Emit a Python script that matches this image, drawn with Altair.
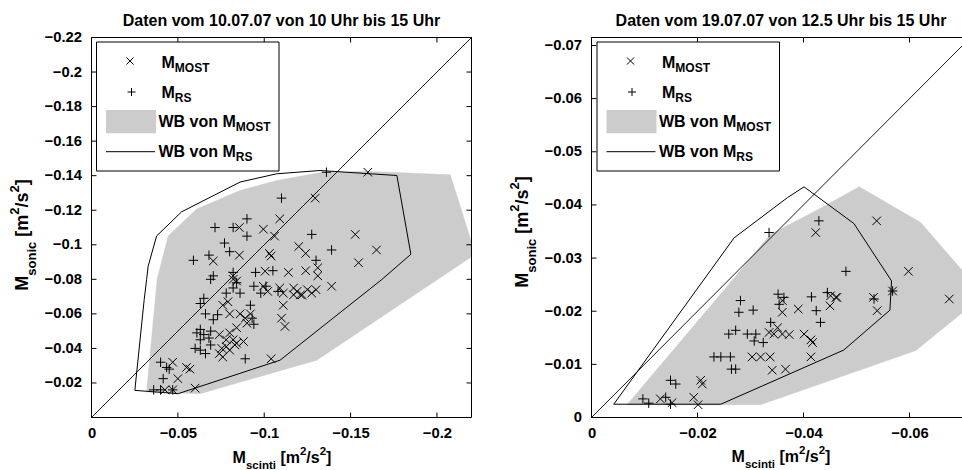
import altair as alt
import pandas as pd

FONT = "Liberation Sans"
GRAY = "#cccccc"
INK = "#000000"

# ---------------- 10.07.07, 10 - 15 Uhr ----------------
l_most_x = [-0.160, -0.1295, -0.109, -0.0856, -0.0995, -0.106, -0.1527, -0.120, -0.165, -0.103,
            -0.124, -0.0856, -0.104, -0.0705, -0.1546, -0.131, -0.1005, -0.082, -0.114, -0.124,
            -0.131, -0.084, -0.0995, -0.109, -0.117, -0.119, -0.139, -0.130, -0.111, -0.122,
            -0.1275, -0.102, -0.082, -0.121, -0.117, -0.125, -0.111, -0.110, -0.112, -0.076,
            -0.079, -0.080, -0.086, -0.089, -0.092, -0.090, -0.084, -0.080, -0.074, -0.078,
            -0.082, -0.084, -0.0754, -0.078, -0.080, -0.083, -0.088, -0.074, -0.076, -0.047,
            -0.055, -0.057, -0.050, -0.060, -0.0425, -0.047, -0.104]
l_most_y = [-0.142, -0.127, -0.115, -0.110, -0.109, -0.105, -0.106, -0.099, -0.097, -0.095,
            -0.095, -0.094, -0.0935, -0.0906, -0.0896, -0.0867, -0.0847, -0.082, -0.084, -0.085,
            -0.082, -0.079, -0.076, -0.075, -0.075, -0.073, -0.076, -0.074, -0.072, -0.071,
            -0.072, -0.073, -0.080, -0.071, -0.071, -0.074, -0.065, -0.0575, -0.0527, -0.065,
            -0.067, -0.060, -0.060, -0.0575, -0.060, -0.0546, -0.052, -0.049, -0.048, -0.045,
            -0.045, -0.043, -0.040, -0.041, -0.039, -0.042, -0.044, -0.037, -0.035, -0.032,
            -0.029, -0.028, -0.0225, -0.017, -0.016, -0.016, -0.034]
l_rs_x = [-0.136, -0.110, -0.0715, -0.090, -0.082, -0.090, -0.1275, -0.077, -0.080, -0.139,
          -0.059, -0.130, -0.068, -0.082, -0.095, -0.105, -0.0705, -0.069, -0.084, -0.082,
          -0.094, -0.101, -0.108, -0.086, -0.078, -0.098, -0.065, -0.063, -0.066, -0.073,
          -0.092, -0.0705, -0.093, -0.094, -0.063, -0.061, -0.069, -0.065, -0.063, -0.068,
          -0.060, -0.063, -0.066, -0.069, -0.089, -0.040, -0.0435, -0.045, -0.0415, -0.036,
          -0.040, -0.047]
l_rs_y = [-0.142, -0.127, -0.110, -0.115, -0.110, -0.105, -0.106, -0.101, -0.096, -0.097,
          -0.091, -0.091, -0.094, -0.084, -0.084, -0.085, -0.082, -0.080, -0.078, -0.075,
          -0.076, -0.076, -0.073, -0.072, -0.072, -0.072, -0.069, -0.066, -0.060, -0.0595,
          -0.065, -0.0566, -0.0575, -0.054, -0.051, -0.049, -0.050, -0.048, -0.045, -0.046,
          -0.040, -0.039, -0.037, -0.042, -0.034, -0.032, -0.029, -0.028, -0.0225, -0.016,
          -0.016, -0.016]
# envelope (WB) of M_MOST and of M_RS
l_wbmost_x = [-0.0444, -0.0609, -0.0860, -0.1072, -0.1323, -0.1594, -0.2077, -0.2200, -0.2200,
              -0.1304, -0.0628, -0.0319, -0.0380, -0.0444]
l_wbmost_y = [-0.1051, -0.1207, -0.1314, -0.1372, -0.1417, -0.1425, -0.1405, -0.1015, -0.0930,
              -0.0332, -0.0138, -0.0148, -0.0799, -0.1051]
l_wbrs_x = [-0.0377, -0.0522, -0.0860, -0.1072, -0.1323, -0.1768, -0.1849, -0.1681, -0.1092,
            -0.0502, -0.0251, -0.0305, -0.0319, -0.0328, -0.0377]
l_wbrs_y = [-0.1051, -0.1191, -0.1363, -0.1411, -0.1430, -0.1401, -0.0945, -0.0799, -0.0332,
            -0.0138, -0.0157, -0.0682, -0.0799, -0.0876, -0.1051]

# ---------------- 19.07.07, 12.5 - 15 Uhr ----------------
r_most_x = [-0.0423, -0.0538, -0.0598, -0.0675, -0.0461, -0.0532, -0.0451, -0.0463, -0.0450, -0.0539,
            -0.0568, -0.0360, -0.0360, -0.0390, -0.0351, -0.0335, -0.0344, -0.0360, -0.0373, -0.0401,
            -0.0414, -0.0417, -0.0303, -0.0319, -0.0337, -0.0414, -0.0341, -0.0366, -0.0206, -0.0209,
            -0.0130, -0.0152, -0.0193, -0.0201]
r_most_y = [-0.0348, -0.0370, -0.0275, -0.0223, -0.0226, -0.0226, -0.0229, -0.0226, -0.0210, -0.0201,
            -0.0238, -0.0220, -0.0198, -0.0204, -0.0169, -0.0160, -0.0157, -0.0157, -0.0156, -0.0157,
            -0.0146, -0.0141, -0.0114, -0.0114, -0.0114, -0.0114, -0.0089, -0.0091, -0.0070, -0.0063,
            -0.0035, -0.0028, -0.0038, -0.0024]
r_rs_x = [-0.0335, -0.0429, -0.0480, -0.0568, -0.0352, -0.0363, -0.0415, -0.0445, -0.0281, -0.0278,
          -0.0305, -0.0354, -0.0424, -0.0533, -0.0338, -0.0432, -0.0272, -0.0259, -0.0294, -0.0310,
          -0.0307, -0.0324, -0.0231, -0.0244, -0.0262, -0.0264, -0.0272, -0.0149, -0.0159, -0.0097,
          -0.0108, -0.0140, -0.0149]
r_rs_y = [-0.0348, -0.0370, -0.0275, -0.0238, -0.0232, -0.0226, -0.0227, -0.0235, -0.0220, -0.0198,
          -0.0202, -0.0213, -0.0201, -0.0223, -0.0179, -0.0179, -0.0164, -0.0157, -0.0157, -0.0157,
          -0.0144, -0.0141, -0.0114, -0.0114, -0.0114, -0.0091, -0.0091, -0.0070, -0.0063, -0.0035,
          -0.0027, -0.0038, -0.0025]
r_wbmost_x = [-0.0067, -0.0319, -0.0612, -0.0740, -0.0621, -0.0505, -0.0425, -0.0338, -0.0250, -0.0067]
r_wbmost_y = [-0.0024, -0.0024, -0.0126, -0.0230, -0.0367, -0.0434, -0.0390, -0.0345, -0.0240, -0.0024]
r_wbrs_x = [-0.0042, -0.0244, -0.0476, -0.0563, -0.0566, -0.0495, -0.0401, -0.0370, -0.0269, -0.0042]
r_wbrs_y = [-0.0025, -0.0025, -0.0127, -0.0202, -0.0257, -0.0365, -0.0434, -0.0414, -0.0338, -0.0025]

l_xticks = [0, -0.05, -0.1, -0.15, -0.2]
l_yticks = [-0.02, -0.04, -0.06, -0.08, -0.1, -0.12, -0.14, -0.16, -0.18, -0.2, -0.22]
r_xticks = [0, -0.02, -0.04, -0.06]
r_yticks = [0, -0.01, -0.02, -0.03, -0.04, -0.05, -0.06, -0.07]

l_title = "Daten vom 10.07.07 von 10 Uhr bis 15 Uhr"
r_title = "Daten vom 19.07.07 von 12.5 Uhr bis 15 Uhr"

# marker outlines: "+" and "x"
PLUS = "M-1,0L1,0M0,-1L0,1"
CROSS = "M-1,-1L1,1M-1,1L1,-1"

# advance widths of the bold sans face (1/1000 em), used to chain sub/superscripts
AW = {' ': 278, '/': 278, '2': 556, '[': 333, ']': 333, 'B': 722, 'M': 833, 'O': 778,
      'R': 722, 'S': 667, 'T': 611, 'W': 944, 'c': 556, 'i': 278, 'm': 889, 'n': 611,
      'o': 611, 's': 556, 't': 333, 'v': 556}


def tw(s, size):
    return sum(AW.get(c, 556) for c in s) / 1000.0 * size


def rich(parts, x, y, angle=0, center=True, fs=None, shift=None):
    fs = fs or {'n': 16, 'sub': 11.5, 'sup': 11.5}
    shift = shift or {'n': 0, 'sub': 6, 'sup': -8}
    total = sum(tw(s, fs[r]) for s, r in parts)
    pos = -total / 2 if center else 0
    rows = []
    for s, r in parts:
        lead = len(s) - len(s.lstrip(' '))
        pos += tw(' ' * lead, fs[r])
        body = s.lstrip(' ')
        if angle == 0:
            px, py = x + pos, y + shift[r]
        else:
            px, py = x + shift[r], y - pos
        rows.append(dict(px=px, py=py, txt=body, fs=fs[r], ang=angle))
        pos += tw(body, fs[r])
    return rows


def axis(orient, offset, values, pad):
    return alt.Axis(orient=orient, offset=offset, values=values, ticks=False, domain=False,
                    grid=False, title=None, labelPadding=pad, labelFont=FONT, labelFontSize=14.8,
                    labelFontWeight="bold", labelColor=INK, labelFlush=False, labelOverlap=False,
                    labelExpr="datum.value == 0 ? '0' : '\u2212' + format(-datum.value, '.2~f')")


one = pd.DataFrame({"k": [0]})


def panel(xr, yr, lim, most, rs, wbm, wbr, xticks, yticks, right_side=True):
    xs = alt.Scale(domain=[0, -lim], range=list(xr), nice=False, zero=False)
    ys = alt.Scale(domain=[0, -lim], range=[yr[1], yr[0]], nice=False, zero=False)

    def XY(ax=None, ay=None):
        return dict(x=alt.X("x:Q", scale=xs, axis=ax), y=alt.Y("y:Q", scale=ys, axis=ay))

    def poly(px, py):
        return pd.DataFrame({"x": px, "y": py, "i": list(range(len(px)))})

    layers = []
    layers.append(alt.Chart(poly(*wbm)).mark_line(fill=GRAY, stroke=GRAY, strokeWidth=0.5)
                  .encode(order="i:Q", **XY()))
    layers.append(alt.Chart(poly(*wbr)).mark_line(color=INK, strokeWidth=1)
                  .encode(order="i:Q", **XY()))
    diag = pd.DataFrame({"x": [0, -lim], "y": [0, -lim]})
    layers.append(alt.Chart(diag).mark_line(color=INK, strokeWidth=0.9).encode(
        **XY(axis("bottom", -(470 - yr[1]), xticks, 8), axis("left", -xr[0], yticks, 10)))
    )
    layers.append(alt.Chart(pd.DataFrame({"x": most[0], "y": most[1]}))
                  .mark_point(shape=CROSS, size=72, filled=False, stroke=INK, strokeWidth=1, opacity=1)
                  .encode(**XY()))
    layers.append(alt.Chart(pd.DataFrame({"x": rs[0], "y": rs[1]}))
                  .mark_point(shape=PLUS, size=90, filled=False, stroke=INK, strokeWidth=1, opacity=1)
                  .encode(**XY()))
    # inward tick marks on all sides
    tx = pd.DataFrame({"v": xticks})
    ty = pd.DataFrame({"v": yticks})
    xv = alt.X("v:Q", scale=xs, axis=None)
    yv = alt.Y("v:Q", scale=ys, axis=None)
    layers.append(alt.Chart(tx).mark_rule(color=INK, strokeWidth=1).encode(
        x=xv, y=alt.value(yr[1]), y2=alt.value(yr[1] - 5)))
    layers.append(alt.Chart(tx).mark_rule(color=INK, strokeWidth=1).encode(
        x=xv, y=alt.value(yr[0]), y2=alt.value(yr[0] + 5)))
    layers.append(alt.Chart(ty).mark_rule(color=INK, strokeWidth=1).encode(
        y=yv, x=alt.value(xr[0]), x2=alt.value(xr[0] + 5)))
    if right_side:
        layers.append(alt.Chart(ty).mark_rule(color=INK, strokeWidth=1).encode(
            y=yv, x=alt.value(xr[1]), x2=alt.value(xr[1] - 5)))
    layers.append(alt.Chart(one).mark_rect(fill="white", fillOpacity=0, stroke=INK, strokeWidth=1)
                  .encode(x=alt.value(xr[0]), x2=alt.value(xr[1]),
                          y=alt.value(yr[0]), y2=alt.value(yr[1])))
    return layers


def legend(bx, by):
    layers = [
        alt.Chart(one).mark_rect(fill="white", stroke=INK, strokeWidth=1).encode(
            x=alt.value(bx), x2=alt.value(bx + 182.5), y=alt.value(by), y2=alt.value(by + 129)),
        alt.Chart(one).mark_point(shape=CROSS, size=50, filled=False, stroke=INK, strokeWidth=1,
                                  opacity=1).encode(x=alt.value(bx + 33.5), y=alt.value(by + 19)),
        alt.Chart(one).mark_point(shape=PLUS, size=64, filled=False, stroke=INK, strokeWidth=1,
                                  opacity=1).encode(x=alt.value(bx + 35), y=alt.value(by + 50)),
        alt.Chart(one).mark_rect(fill=GRAY).encode(
            x=alt.value(bx + 9.5), x2=alt.value(bx + 59.5), y=alt.value(by + 68), y2=alt.value(by + 91.3)),
        alt.Chart(one).mark_rule(color=INK, strokeWidth=1).encode(
            x=alt.value(bx + 9.5), x2=alt.value(bx + 58.5), y=alt.value(by + 109.7)),
    ]
    lf = {'n': 16, 'sub': 12, 'sup': 12}
    ls = {'n': 0, 'sub': 4, 'sup': -7}
    rows = []
    rows += rich([("M", 'n'), ("MOST", 'sub')], bx + 65, by + 25.7, center=False, fs=lf, shift=ls)
    rows += rich([("M", 'n'), ("RS", 'sub')], bx + 65, by + 56.3, center=False, fs=lf, shift=ls)
    rows += rich([("WB von M", 'n'), ("MOST", 'sub')], bx + 62, by + 84.7, center=False, fs=lf, shift=ls)
    rows += rich([("WB von M", 'n'), ("RS", 'sub')], bx + 62, by + 114.7, center=False, fs=lf, shift=ls)
    return layers, rows


LX = (91.5, 471.5)
RX = (591.5, 970.5)
YR = (37.5, 417.5)

layers = []
layers += panel(LX, YR, 0.22, (l_most_x, l_most_y), (l_rs_x, l_rs_y),
                (l_wbmost_x, l_wbmost_y), (l_wbrs_x, l_wbrs_y), l_xticks, l_yticks)
layers += panel(RX, YR, 0.0715, (r_most_x, r_most_y), (r_rs_x, r_rs_y),
                (r_wbmost_x, r_wbmost_y), (r_wbrs_x, r_wbrs_y), r_xticks, r_yticks, right_side=False)

text_rows = []
lg, rows = legend(96.5, 42)
layers += lg
text_rows += rows
lg, rows = legend(597, 42)
layers += lg
text_rows += rows

xlab = [("M", 'n'), ("scinti", 'sub'), (" [m", 'n'), ("2", 'sup'), ("/s", 'n'), ("2", 'sup'), ("]", 'n')]
ylab = [("M", 'n'), ("sonic", 'sub'), (" [m", 'n'), ("2", 'sup'), ("/s", 'n'), ("2", 'sup'), ("]", 'n')]
yfs = {'n': 18, 'sub': 13, 'sup': 13}
ysh = {'n': 0, 'sub': 7.5, 'sup': -9}
text_rows += rich(xlab, 282, 463)
text_rows += rich(xlab, 781, 462)
text_rows += rich(ylab, 28, 235, angle=270, fs=yfs, shift=ysh)
text_rows += rich(ylab, 528, 232, angle=270, fs=yfs, shift=ysh)

texts = alt.Chart(pd.DataFrame(text_rows)).mark_text(
    align="left", baseline="alphabetic", font=FONT, fontWeight="bold", color=INK
).encode(
    x=alt.X("px:Q", scale=None, axis=None),
    y=alt.Y("py:Q", scale=None, axis=None),
    text="txt:N",
    size=alt.Size("fs:Q", scale=None),
    angle=alt.Angle("ang:Q", scale=None),
)
titles = alt.Chart(pd.DataFrame({"px": [281.5, 781], "py": [26, 26], "txt": [l_title, r_title]})).mark_text(
    align="center", baseline="alphabetic", font=FONT, fontWeight="bold", fontSize=16, color=INK
).encode(
    x=alt.X("px:Q", scale=None, axis=None),
    y=alt.Y("py:Q", scale=None, axis=None),
    text="txt:N",
)
layers += [texts, titles]

chart = alt.layer(*layers).resolve_scale(x="independent", y="independent").properties(
    width=962, height=470, padding=0, autosize=alt.AutoSizeParams(type="none"),
    background="white",
).configure_view(strokeWidth=0)

chart.save("out.html", embed_options={"renderer": "svg", "actions": False})
